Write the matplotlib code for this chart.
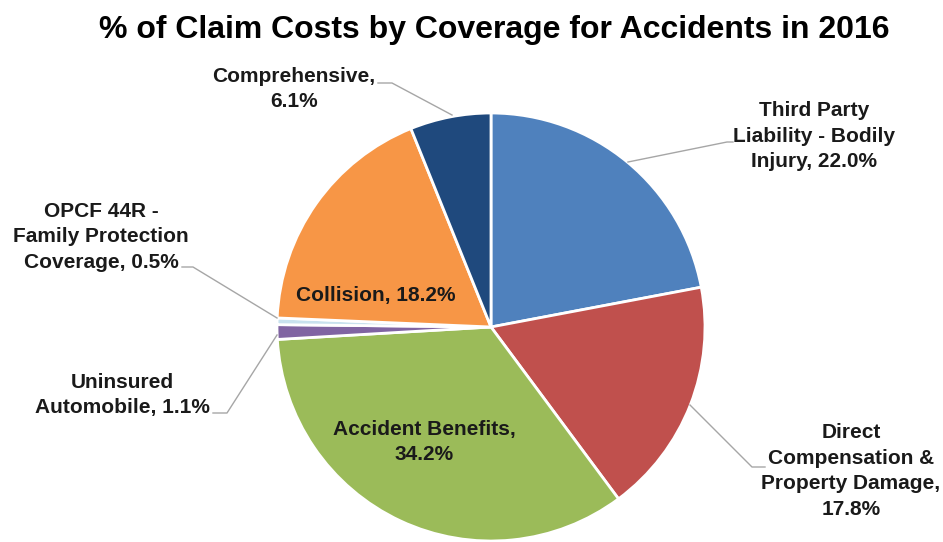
import matplotlib.pyplot as plt

plt.rcParams['font.family'] = ['Liberation Sans', 'DejaVu Sans']

coverages = ["Third Party Liability - Bodily Injury",
             "Direct Compensation & Property Damage",
             "Accident Benefits",
             "Uninsured Automobile",
             "OPCF 44R - Family Protection Coverage",
             "Collision",
             "Comprehensive"]
shares = [22.0, 17.8, 34.2, 1.1, 0.5, 18.2, 6.1]
label_texts = ["Third Party\nLiability - Bodily\nInjury, 22.0%",
               "Direct\nCompensation &\nProperty Damage,\n17.8%",
               "Accident Benefits,\n34.2%",
               "Uninsured\nAutomobile, 1.1%",
               "OPCF 44R -\nFamily Protection\nCoverage, 0.5%",
               "Collision, 18.2%",
               "Comprehensive,\n6.1%"]
colors = ["#4F81BD", "#C0504D", "#9BBB59", "#8064A2", "#C9E2EE", "#F79646", "#1F497D"]

W, H = 943, 542
fig = plt.figure(figsize=(W / 100, H / 100), dpi=100)
ax = fig.add_axes([0, 0, 1, 1])

# pie centre / radius in pixels; y axis is flipped, so counterclock=True runs clockwise on screen
cx, cy, r = 491, 327, 214
ax.pie(shares, colors=colors, startangle=-90, counterclock=True,
       center=(cx, cy), radius=r, frame=True,
       wedgeprops=dict(edgecolor='white', linewidth=2))
ax.set_xlim(0, W)
ax.set_ylim(H, 0)
ax.set_aspect('equal')
ax.axis('off')

ax.text(494, 30, "% of Claim Costs by Coverage for Accidents in 2016",
        ha='center', va='center', fontsize=23, fontweight='bold')

label_pos = [(814, 136), (851, 471), (424, 442), (122, 395),
             (101, 237), (376, 295), (294, 89)]
for txt, (x, y) in zip(label_texts, label_pos):
    ax.text(x, y, txt, ha='center', va='center', fontsize=15,
            fontweight='bold', color='#1a1a1a', linespacing=1.45)

leaders = [
    ([628, 727, 733], [162, 142, 142]),
    ([690, 752, 765], [405, 467, 467]),
    ([452, 392, 378], [115, 83, 83]),
    ([182, 193, 277], [267, 267, 318]),
    ([277, 227, 213], [335, 413, 413]),
]
for xs, ys in leaders:
    ax.plot(xs, ys, color='#a6a6a6', linewidth=1)

fig.savefig("out.png", dpi=100)
